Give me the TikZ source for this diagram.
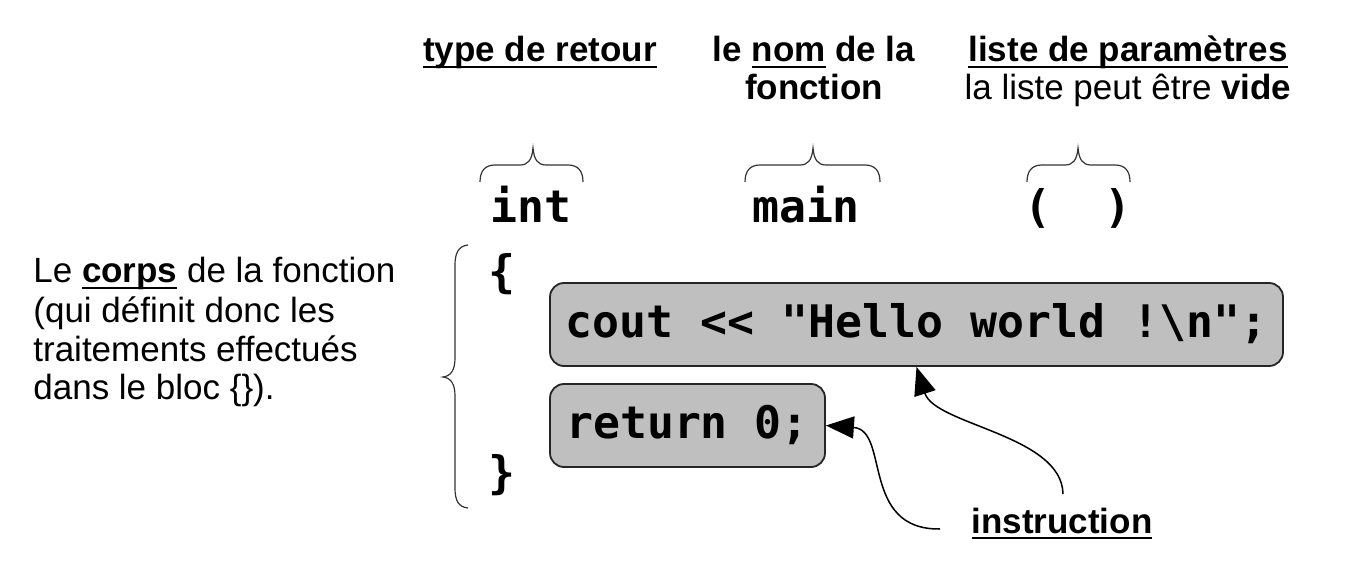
\documentclass[tikz,border=0pt]{standalone}
\usepackage{fontspec}
\setmainfont{Liberation Sans}
\setmonofont{DejaVu Sans Mono}
\usetikzlibrary{arrows.meta}
\newcommand\myul[1]{\setbox0\hbox{#1}\rlap{\rule[-3pt]{\wd0}{1pt}}\box0\relax}
\newcommand\hbrc[3]{\draw[brc] (#1,182) .. controls (#1,171) and ({#1+5},165) .. ({#1+15},165) -- ({#2-13},165) .. controls ({#2-5},165) and ({#2-1},160) .. (#2,148) .. controls ({#2+1},160) and ({#2+5},165) .. ({#2+13},165) -- ({#3-15},165) .. controls ({#3-5},165) and (#3,171) .. (#3,182);}
\begin{document}
\begin{tikzpicture}[x=0.5pt,y=-0.5pt,
  lbl/.style={font=\fontsize{17.5}{21}\selectfont, inner sep=0, anchor=base},
  code/.style={font=\fontsize{22.4}{27}\selectfont\ttfamily\bfseries, inner sep=0, anchor=base},
  stmt/.style={code, draw=black!85, line width=0.9pt, fill=black!25, rounded corners=7pt, text height=27pt, text depth=14.5pt, inner xsep=0},
  brc/.style={draw=black!80, line width=0.6pt},
  arr/.style={-{Triangle[length=14pt,width=11pt]}, line width=0.75pt}]
\useasboundingbox (0,0) rectangle (1348,571);
% top labels
\node[lbl] (ret) at (540,62) {\myul{\textbf{type de retour}}};
\node[lbl] (nom1) at (814,62) {\textbf{le \myul{nom} de la}};
\node[lbl] (nom2) at (814,100) {\textbf{fonction}};
\node[lbl] (par1) at (1128,62) {\myul{\textbf{liste de paramètres}}};
\node[lbl] (par2) at (1128,100) {la liste peut être \textbf{vide}};
% braces over the signature
\hbrc{480}{533}{583}
\hbrc{745}{813}{880}
\hbrc{1027}{1078}{1130}
% signature
\node[code] (int) at (531,223) {int};
\node[code] (main) at (806,223) {main};
\node[code] (paren) at (1078,223) {(\ \ )};
% body
\node[code] (ob) at (502,288) {\{};
\node[code] (cb) at (502,488) {\}};
\node[stmt, minimum width=366.5pt] (cout) at (916.5,337) {cout << "Hello world !\textbackslash n";};
\node[stmt, minimum width=137.5pt] (ret0) at (687.5,438) {return 0;};
% big left brace
\draw[brc] (468,245) .. controls (458,246) and (455,254) .. (455,265) -- (455,358) .. controls (455,370) and (451,376) .. (443,377) .. controls (451,378) and (455,384) .. (455,396) -- (455,488) .. controls (455,500) and (458,507) .. (468,508);
% left text
\node[lbl, anchor=base west] (c1) at (33,283) {Le \myul{\textbf{corps}} de la fonction};
\node[lbl, anchor=base west] (c2) at (33,323) {(qui définit donc les};
\node[lbl, anchor=base west] (c3) at (33,362) {traitements effectués};
\node[lbl, anchor=base west] (c4) at (33,400) {dans le bloc \{\}).};
% instruction
\node[lbl] (instr) at (1062,533) {\myul{\textbf{instruction}}};
\coordinate (s1) at (1063,494);
\coordinate (s2) at (940,529);
\draw[arr] (s1) .. controls (1062,435) and (935,425) .. (cout.south);
\draw[arr] (s2) .. controls (860,530) and (890,430) .. (ret0.east);
\end{tikzpicture}
\end{document}
